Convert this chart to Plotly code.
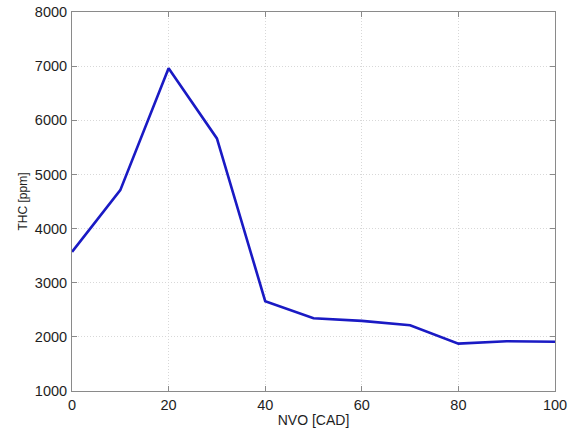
import plotly.graph_objects as go

nvo = [0, 10, 20, 30, 40, 50, 60, 70, 80, 90, 100]
thc = [3570, 4710, 6960, 5665, 2660, 2345, 2295, 2215, 1875, 1920, 1910]

x_ticks = [0, 20, 40, 60, 80, 100]
y_ticks = [1000, 2000, 3000, 4000, 5000, 6000, 7000, 8000]

font_family = "Liberation Sans, Arial, Helvetica, sans-serif"

fig = go.Figure()
fig.add_trace(go.Scatter(
    x=nvo, y=thc, mode="lines",
    line=dict(color="#1a1ac4", width=2.6),
    showlegend=False,
))

axis_common = dict(
    showline=True, linecolor="#8a8a8a", linewidth=1, mirror="ticks",
    ticks="inside", ticklen=5, tickcolor="#8a8a8a", tickwidth=1,
    showgrid=True, gridcolor="#d8d8d8", griddash="1px,2px", gridwidth=1,
    zeroline=False,
    tickfont=dict(family=font_family, size=14.5, color="#1e1e1e"),
)

fig.update_layout(
    width=574, height=432,
    margin=dict(l=72, r=19, t=12, b=41),
    paper_bgcolor="white", plot_bgcolor="white",
    font=dict(family=font_family, color="#1e1e1e"),
    xaxis=dict(
        range=[0, 100], tickvals=x_ticks, ticklabelstandoff=1,
        title=dict(text="NVO [CAD]", font=dict(size=14, family=font_family), standoff=2),
        automargin=False,
        **axis_common,
    ),
    yaxis=dict(
        range=[1000, 8000], tickvals=y_ticks, ticklabelstandoff=1,
        title=dict(text="THC [ppm]", font=dict(size=12, family=font_family), standoff=4),
        automargin=False,
        **axis_common,
    ),
)

fig.write_html(
    "out.html",
    config={"displayModeBar": False},
    post_script="document.body.style.margin='0';document.body.style.padding='0';",
)
